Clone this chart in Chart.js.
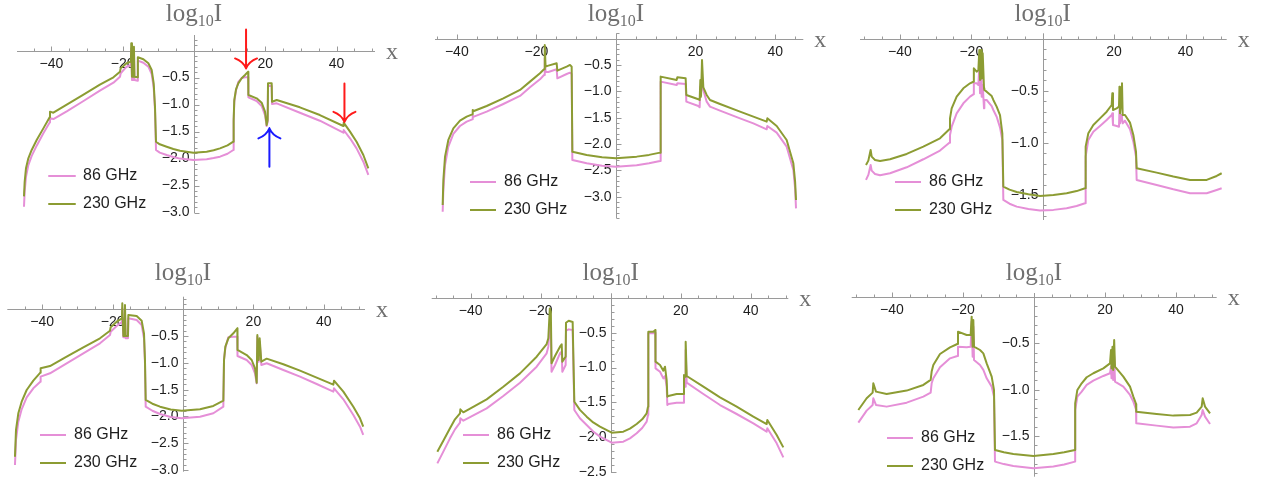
<!DOCTYPE html>
<html>
<head>
<meta charset="utf-8">
<title>log10 I profiles, 86 and 230 GHz</title>
<script src="https://cdn.jsdelivr.net/npm/chart.js@4.4.1/dist/chart.umd.min.js"></script>
<style>
  html, body { margin: 0; padding: 0; background: #ffffff; }
  #wrap { position: relative; width: 1266px; height: 482px; overflow: hidden; }
  #wrap canvas { position: absolute; }
</style>
</head>
<body>
<div id="wrap">
  <canvas id="p1"></canvas>
  <canvas id="p2"></canvas>
  <canvas id="p3"></canvas>
  <canvas id="p4"></canvas>
  <canvas id="p5"></canvas>
  <canvas id="p6"></canvas>
</div>
<script>
// ---- data (x, log10 I at 86 GHz = low, at 230 GHz = high) ----
const seriesLabels = ['86 GHz', '230 GHz'];
const xTickLabels = [-40, -20, 20, 40];
const yTicksDeep = [-0.5, -1.0, -1.5, -2.0, -2.5, -3.0];
const yTicksMid = [-0.5, -1.0, -1.5, -2.0, -2.5];
const yTicksShallow = [-0.5, -1.0, -1.5];

const p1X = [-47.69, -47.5, -47.13, -46.47, -45.53, -44.13, -42.26, -40.49, -40.4, -39.45, -35.7, -31.0, -26.4, -22.6, -20.76, -20.57, -18.9, -17.7, -17.6, -17.4, -16.95, -16.85, -16.7, -15.8, -15.75, -14.2, -12.8, -11.87, -11.31, -10.94, -10.66, -9.6, -7.67, -5.8, -3.93, -0.19, 3.55, 5.5, 7.29, 9.4, 11.03, 11.12, 11.3, 11.78, 12.43, 13.37, 14.3, 15.2, 15.25, 17.58, 18.98, 19.92, 20.38, 20.66, 20.76, 21.79, 21.88, 23.2, 29.7, 35.3, 41.89, 41.98, 43.76, 45.6, 47.5, 48.9];
const p1High = [-2.70, -2.43, -2.18, -1.995, -1.84, -1.655, -1.44, -1.235, -1.13, -1.15, -1.0, -0.816, -0.63, -0.495, -0.39, -0.328, -0.235, -0.205, 0.135, -0.483, -0.483, 0.073, -0.483, -0.495, -0.124, -0.161, -0.235, -0.359, -0.606, -1.039, -1.687, -1.735, -1.78, -1.822, -1.854, -1.89, -1.872, -1.845, -1.81, -1.755, -1.687, -1.285, -0.915, -0.717, -0.606, -0.513, -0.452, -0.39, -0.822, -0.884, -0.964, -1.13, -1.378, -1.285, -0.606, -0.606, -0.946, -0.915, -1.05, -1.193, -1.396, -1.335, -1.50, -1.687, -1.933, -2.18];
const p1Low = [-2.89, -2.61, -2.335, -2.12, -1.95, -1.76, -1.53, -1.33, -1.25, -1.267, -1.124, -0.933, -0.742, -0.594, -0.483, -0.42, -0.298, -0.267, 0.043, -0.544, -0.544, 0.011, -0.544, -0.557, -0.186, -0.224, -0.298, -0.433, -0.68, -1.10, -1.84, -1.89, -1.933, -1.97, -2.0, -2.026, -2.013, -1.99, -1.964, -1.91, -1.84, -1.317, -0.95, -0.74, -0.58, -0.51, -0.495, -0.495, -0.865, -0.933, -1.026, -1.193, -1.396, -1.317, -0.656, -0.656, -0.989, -0.976, -1.15, -1.298, -1.52, -1.47, -1.624, -1.81, -2.057, -2.30];
// annotation arrows in panel 1 (data units)
const p1ArrowX = [14.6, 42.2, 21.15];
const p1ArrowFrom = [0.39, -0.61, -2.15];
const p1ArrowTo = [-0.33, -1.32, -1.44];

const p2X = [-43.55, -43.38, -42.96, -42.13, -40.87, -39.2, -37.52, -36.1, -36.0, -35.7, -32.5, -28.31, -24.12, -21.61, -19.1, -18.09, -17.9, -17.7, -17.0, -14.91, -14.74, -12.4, -11.56, -11.14, -10.97, -9.0, -7.37, -3.5, 0, 5.19, 8.3, 11.06, 11.22, 15.24, 15.41, 17.5, 17.67, 20.69, 21.02, 21.19, 21.36, 21.61, 21.94, 22.78, 23.62, 26.13, 31.16, 34.51, 37.86, 38.02, 40.37, 42.88, 44.56, 45.0, 45.23];
const p2High = [-3.156, -2.681, -2.238, -1.922, -1.701, -1.555, -1.48, -1.435, -1.353, -1.372, -1.277, -1.132, -0.973, -0.815, -0.657, -0.581, -0.12, -0.531, -0.512, -0.467, -0.607, -0.531, -0.499, -0.531, -2.144, -2.18, -2.207, -2.25, -2.27, -2.238, -2.205, -2.162, -0.72, -0.784, -0.733, -0.752, -1.068, -1.15, -1.163, -0.784, -1.1, -0.404, -0.923, -1.068, -1.163, -1.239, -1.385, -1.48, -1.574, -1.511, -1.657, -1.922, -2.365, -2.713, -3.06];
const p2Low = [-3.282, -2.871, -2.397, -2.049, -1.808, -1.657, -1.574, -1.53, -1.46, -1.48, -1.385, -1.239, -1.087, -0.923, -0.771, -0.689, -0.372, -0.626, -0.632, -0.581, -0.752, -0.67, -0.645, -0.67, -2.302, -2.335, -2.365, -2.41, -2.428, -2.403, -2.365, -2.321, -0.815, -0.879, -0.847, -0.86, -1.195, -1.277, -1.302, -0.91, -1.037, -0.72, -0.973, -1.195, -1.29, -1.366, -1.511, -1.606, -1.72, -1.657, -1.783, -2.049, -2.491, -2.839, -3.219];

const p3X = [-49.5, -48.84, -48.2, -47.91, -46.97, -45.57, -42.77, -38.1, -33.44, -28.77, -26.15, -25.97, -25.5, -24.1, -22.23, -20.36, -19.43, -19.29, -18.5, -18.03, -17.75, -17.56, -17.28, -17.1, -16.81, -16.44, -16.35, -15.7, -14.29, -13.83, -12.9, -11.96, -11.31, -11.03, -9.3, -7.29, -4.0, -0.76, 3.0, 6.71, 9.5, 11.85, 12.03, 12.78, 14.18, 16.05, 17.92, 19.32, 19.5, 19.69, 20.72, 21.37, 21.5, 21.65, 22.03, 22.21, 22.4, 23.05, 24.45, 25.39, 26.13, 26.32, 31.92, 36.59, 41.26, 45.93, 48.73, 50.13];
const p3High = [-1.212, -1.17, -1.068, -1.132, -1.164, -1.173, -1.157, -1.106, -1.036, -0.956, -0.87, -0.765, -0.669, -0.557, -0.477, -0.429, -0.414, -0.286, -0.318, -0.302, -0.11, -0.398, -0.11, -0.382, -0.142, -0.477, -0.493, -0.509, -0.551, -0.589, -0.653, -0.733, -0.908, -1.419, -1.448, -1.47, -1.492, -1.509, -1.500, -1.483, -1.462, -1.435, -1.036, -0.908, -0.829, -0.765, -0.701, -0.637, -0.525, -0.685, -0.669, -0.653, -0.461, -0.717, -0.589, -0.429, -0.733, -0.733, -0.806, -0.924, -1.084, -1.244, -1.285, -1.323, -1.355, -1.355, -1.317, -1.291];
const p3Low = [-1.355, -1.307, -1.212, -1.266, -1.298, -1.311, -1.291, -1.234, -1.157, -1.074, -0.998, -0.924, -0.845, -0.717, -0.621, -0.557, -0.535, -0.429, -0.429, -0.445, -0.27, -0.525, -0.222, -0.557, -0.445, -0.669, -0.589, -0.589, -0.647, -0.685, -0.749, -0.851, -0.972, -1.547, -1.583, -1.611, -1.633, -1.649, -1.642, -1.627, -1.605, -1.579, -1.132, -0.972, -0.893, -0.838, -0.781, -0.733, -0.717, -0.829, -0.838, -0.845, -0.685, -0.813, -0.733, -0.765, -0.813, -0.787, -0.87, -0.988, -1.132, -1.355, -1.403, -1.445, -1.483, -1.483, -1.451, -1.435];

const p4X = [-47.73, -47.44, -46.78, -45.83, -44.41, -42.52, -40.53, -40.44, -37.78, -33.05, -28.31, -23.58, -20.74, -20.55, -18.84, -17.33, -17.24, -16.95, -16.57, -16.48, -16.29, -15.63, -15.53, -13.16, -11.74, -11.08, -10.8, -10.6, -8.7, -6.53, -3.5, -0.38, 4.83, 8.62, 11.46, 11.65, 12.03, 12.88, 14.3, 15.43, 15.48, 18.09, 19.51, 20.45, 20.93, 21.12, 21.5, 21.78, 22.25, 23.77, 28.5, 33.24, 37.97, 42.71, 42.9, 45.55, 48.39, 50.28, 51.2];
const p4High = [-2.75, -2.252, -1.94, -1.724, -1.506, -1.332, -1.183, -1.1, -1.058, -0.884, -0.709, -0.541, -0.399, -0.336, -0.231, -0.168, 0.112, -0.498, -0.498, 0.08, -0.498, -0.498, -0.106, -0.125, -0.213, -0.448, -0.946, -1.692, -1.762, -1.817, -1.868, -1.892, -1.866, -1.804, -1.705, -0.946, -0.698, -0.541, -0.448, -0.354, -0.759, -0.853, -0.946, -1.1, -1.369, -0.48, -0.946, -0.541, -0.978, -0.921, -1.026, -1.145, -1.276, -1.406, -1.332, -1.537, -1.817, -2.034, -2.19];
const p4Low = [-2.905, -2.438, -2.097, -1.866, -1.642, -1.474, -1.351, -1.257, -1.194, -1.007, -0.821, -0.634, -0.48, -0.418, -0.312, -0.231, 0.019, -0.522, -0.522, -0.045, -0.541, -0.541, -0.168, -0.2, -0.293, -0.541, -1.007, -1.817, -1.893, -1.953, -2.01, -2.034, -2.004, -1.94, -1.817, -0.946, -0.72, -0.522, -0.511, -0.511, -0.871, -0.946, -1.039, -1.194, -1.38, -0.511, -0.978, -0.604, -1.039, -1.007, -1.132, -1.257, -1.394, -1.537, -1.474, -1.679, -1.972, -2.19, -2.345];

const p5X = [-49.53, -47.82, -45.91, -44.49, -43.06, -42.95, -42.1, -35.44, -30.68, -25.91, -21.15, -18.3, -17.82, -17.39, -17.1, -16.9, -15.91, -14.49, -14.0, -13.82, -12.87, -12.77, -12.0, -10.87, -10.39, -8.8, -6.87, -5.0, -3.06, 0.28, 3.61, 5.5, 7.42, 9.0, 10.28, 10.66, 10.75, 12.18, 12.75, 12.8, 14.09, 15.04, 15.51, 15.99, 16.18, 16.47, 18.85, 20.75, 20.94, 21.23, 21.42, 21.71, 26.47, 31.23, 35.99, 40.75, 44.56, 44.75, 47.42, 49.32];
const p5High = [-2.211, -2.053, -1.875, -1.746, -1.659, -1.602, -1.645, -1.458, -1.276, -1.084, -0.844, -0.662, -0.58, -0.149, -0.197, -0.94, -0.835, -0.7, -0.667, -0.916, -0.844, -0.355, -0.326, -0.345, -1.492, -1.61, -1.707, -1.79, -1.851, -1.938, -1.923, -1.88, -1.813, -1.745, -1.659, -1.564, -0.484, -0.484, -0.46, -0.916, -0.964, -1.046, -0.988, -1.18, -1.42, -1.41, -1.381, -1.381, -1.108, -1.132, -0.628, -1.122, -1.276, -1.429, -1.564, -1.707, -1.813, -1.755, -1.971, -2.149];
const p5Low = [-2.379, -2.211, -2.019, -1.89, -1.794, -1.731, -1.765, -1.588, -1.41, -1.218, -0.988, -0.796, -0.7, -0.388, -0.412, -1.06, -0.964, -0.796, -0.772, -1.06, -0.964, -0.47, -0.451, -0.46, -1.612, -1.73, -1.827, -1.92, -1.995, -2.082, -2.067, -2.02, -1.947, -1.87, -1.779, -1.683, -0.508, -0.508, -0.499, -1.012, -1.06, -1.156, -1.122, -1.276, -1.54, -1.525, -1.506, -1.506, -1.228, -1.276, -0.748, -1.218, -1.381, -1.54, -1.669, -1.803, -1.923, -1.875, -2.091, -2.293];

const p6X = [-49.48, -47.14, -45.45, -45.26, -44.51, -41.5, -35.87, -31.17, -29.11, -28.83, -28.36, -26.48, -23.66, -21.6, -21.41, -18.97, -17.84, -17.56, -17.28, -17.09, -16.9, -15.21, -14.27, -13.33, -11.92, -11.27, -10.99, -8.5, -5.82, -0.19, 5.45, 8.5, 11.55, 11.6, 12.21, 13.43, 14.84, 16.71, 19.53, 21.41, 21.69, 21.83, 22.11, 22.3, 22.58, 22.82, 25.16, 27.04, 27.98, 28.73, 28.8, 34.55, 39.25, 43.94, 45.82, 47.23, 47.51, 48.17, 49.58];
const p6High = [-1.219, -1.093, -1.032, -0.931, -1.021, -1.046, -1.010, -0.949, -0.895, -0.805, -0.734, -0.615, -0.543, -0.507, -0.374, -0.41, -0.41, -0.212, -0.536, -0.248, -0.536, -0.572, -0.608, -0.716, -0.859, -1.003, -1.65, -1.675, -1.694, -1.715, -1.694, -1.676, -1.65, -1.147, -1.003, -0.931, -0.866, -0.823, -0.77, -0.716, -0.572, -0.77, -0.536, -0.787, -0.464, -0.752, -0.859, -0.967, -1.075, -1.154, -1.237, -1.262, -1.28, -1.273, -1.248, -1.183, -1.093, -1.183, -1.255];
const p6Low = [-1.356, -1.226, -1.165, -1.093, -1.165, -1.183, -1.14, -1.075, -1.032, -0.931, -0.877, -0.759, -0.662, -0.636, -0.536, -0.543, -0.536, -0.266, -0.644, -0.32, -0.68, -0.734, -0.787, -0.877, -0.967, -1.075, -1.776, -1.803, -1.823, -1.848, -1.83, -1.808, -1.776, -1.219, -1.075, -1.021, -0.949, -0.902, -0.852, -0.823, -0.752, -0.877, -0.68, -0.895, -0.644, -0.913, -0.967, -1.057, -1.129, -1.212, -1.363, -1.388, -1.409, -1.399, -1.363, -1.273, -1.219, -1.291, -1.37];

// ---- styling ----
const LOW_COLOR = '#e58fd7';
const HIGH_COLOR = '#8c9c33';
const AXIS_COLOR = '#9a9a9a';
const LABEL_COLOR = '#1e1e1e';
const TITLE_COLOR = '#707070';
const SANS = "'Liberation Sans', Arial, sans-serif";
const SERIF = "'Liberation Serif', 'Times New Roman', serif";

// box = canvas [left, top, width, height]; area = axis extents [left, top, right, bottom] in page px
const panels = [
  { id: 'p1', box: [0, 0, 420, 240], area: [17, 35, 375, 213], xRange: [-49.65, 50.77], yRange: [-3.007, 0.289],
    yTicks: yTicksDeep, titleY: 21, legend: [49, 176], x: p1X, low: p1Low, high: p1High,
    arrows: { x: p1ArrowX, from: p1ArrowFrom, to: p1ArrowTo, colors: ['#ff1a1a', '#ff1a1a', '#1a1aff'] } },
  { id: 'p2', box: [420, 0, 420, 240], area: [435, 33.3, 803.3, 218.3], xRange: [-45.48, 47.06], yRange: [-3.408, 0.102],
    yTicks: yTicksDeep, titleY: 21, legend: [50, 182], x: p2X, low: p2Low, high: p2High },
  { id: 'p3', box: [840, 0, 426, 240], area: [860, 33.3, 1226.7, 220], xRange: [-51.18, 51.54], yRange: [-1.739, 0.05],
    yTicks: yTicksShallow, titleY: 21, legend: [55, 182], x: p3X, low: p3Low, high: p3High },
  { id: 'p4', box: [0, 245, 420, 237], area: [7.3, 296.7, 365, 471.7], xRange: [-49.91, 51.7], yRange: [-3.03, 0.235],
    yTicks: yTicksDeep, titleY: 35, legend: [40, 190], x: p4X, low: p4Low, high: p4High },
  { id: 'p5', box: [420, 245, 420, 237], area: [431.7, 293.3, 788.3, 473], xRange: [-51.14, 50.74], yRange: [-2.518, 0.068],
    yTicks: yTicksMid, titleY: 35, legend: [43, 190], x: p5X, low: p5Low, high: p5High },
  { id: 'p6', box: [840, 245, 426, 237], area: [851.7, 293, 1216.7, 476.7], xRange: [-51.35, 51.46], yRange: [-1.939, 0.043],
    yTicks: yTicksShallow, titleY: 35, legend: [47, 193], x: p6X, low: p6Low, high: p6High }
];

function toPoints(xs, ys) {
  return xs.map((x, i) => ({ x: x, y: ys[i] }));
}

function fmt(v, digits) {
  const s = Math.abs(v).toFixed(digits);
  return v < 0 ? '\u2212' + s : s;
}

// Mathematica-style axes through the origin, title, legend and arrows
function makeDecor(p) {
  return {
    id: 'decor',
    beforeDatasetsDraw(chart) {
      const ctx = chart.ctx;
      const xs = chart.scales.x, ys = chart.scales.y;
      const area = chart.chartArea;
      const ox = Math.round(xs.getPixelForValue(0)) + 0.5;
      const oy = Math.round(ys.getPixelForValue(0)) + 0.5;
      ctx.save();
      ctx.strokeStyle = AXIS_COLOR;
      ctx.lineWidth = 1;
      ctx.beginPath();
      ctx.moveTo(area.left, oy); ctx.lineTo(area.right, oy);
      ctx.moveTo(ox, area.top); ctx.lineTo(ox, area.bottom);
      for (let v = Math.ceil(p.xRange[0] / 5) * 5; v <= p.xRange[1]; v += 5) {
        if (v === 0) continue;
        const px = Math.round(xs.getPixelForValue(v)) + 0.5;
        const len = v % 20 === 0 ? 5 : 3;
        ctx.moveTo(px, oy); ctx.lineTo(px, oy - len);
      }
      for (let k = Math.ceil(p.yRange[0] * 10); k <= Math.floor(p.yRange[1] * 10); k++) {
        if (k === 0) continue;
        const py = Math.round(ys.getPixelForValue(k / 10)) + 0.5;
        const len = k % 5 === 0 ? 5 : 3;
        ctx.moveTo(ox, py); ctx.lineTo(ox + len, py);
      }
      ctx.stroke();

      ctx.fillStyle = LABEL_COLOR;
      ctx.font = '14px ' + SANS;
      ctx.textAlign = 'center';
      ctx.textBaseline = 'middle';
      xTickLabels.forEach(v => ctx.fillText(fmt(v, 0), xs.getPixelForValue(v), oy + 13));
      ctx.textAlign = 'right';
      p.yTicks.forEach(v => ctx.fillText(fmt(v, 1), ox - 5, ys.getPixelForValue(v)));
      ctx.restore();
    },
    afterDatasetsDraw(chart) {
      const ctx = chart.ctx;
      const xs = chart.scales.x, ys = chart.scales.y;
      const area = chart.chartArea;
      const ox = xs.getPixelForValue(0), oy = ys.getPixelForValue(0);
      ctx.save();

      // arrows
      if (p.arrows) {
        p.arrows.x.forEach((ax, i) => {
          const px = xs.getPixelForValue(ax);
          const y1 = ys.getPixelForValue(p.arrows.from[i]);
          const y2 = ys.getPixelForValue(p.arrows.to[i]);
          const dir = y2 > y1 ? 1 : -1;
          ctx.strokeStyle = p.arrows.colors[i];
          ctx.lineWidth = 2;
          ctx.lineCap = 'round';
          ctx.beginPath();
          ctx.moveTo(px, y1); ctx.lineTo(px, y2);
          [-1, 1].forEach(side => {
            ctx.moveTo(px + side * 11, y2 - dir * 10);
            ctx.quadraticCurveTo(px + side * 3, y2 - dir * 7, px, y2);
          });
          ctx.stroke();
        });
      }

      // legend
      const lx = p.legend[0], ly = p.legend[1];
      const rows = [[seriesLabels[0], LOW_COLOR], [seriesLabels[1], HIGH_COLOR]];
      ctx.font = '16px ' + SANS;
      ctx.textAlign = 'left';
      ctx.textBaseline = 'middle';
      rows.forEach((r, i) => {
        const y = ly + i * 28;
        ctx.strokeStyle = r[1];
        ctx.lineWidth = 2;
        ctx.beginPath();
        ctx.moveTo(lx, y); ctx.lineTo(lx + 26, y);
        ctx.stroke();
        ctx.fillStyle = LABEL_COLOR;
        ctx.fillText(r[0], lx + 34, y);
      });

      // axis titles
      ctx.fillStyle = TITLE_COLOR;
      ctx.textBaseline = 'alphabetic';
      ctx.font = '25px ' + SERIF;
      const w1 = ctx.measureText('log').width;
      const w3 = ctx.measureText('I').width;
      ctx.font = '16px ' + SERIF;
      const w2 = ctx.measureText('10').width;
      let tx = ox - (w1 + w2 + w3) / 2;
      ctx.font = '25px ' + SERIF;
      ctx.fillText('log', tx, p.titleY);
      ctx.font = '16px ' + SERIF;
      ctx.fillText('10', tx + w1, p.titleY + 5);
      ctx.font = '25px ' + SERIF;
      ctx.fillText('I', tx + w1 + w2, p.titleY);
      ctx.font = '24px ' + SERIF;
      ctx.fillText('x', area.right + 11, oy + 8);
      ctx.restore();
    }
  };
}

panels.forEach(p => {
  const cv = document.getElementById(p.id);
  const [bx, by, bw, bh] = p.box;
  const [al, at, ar, ab] = p.area;
  cv.width = bw;
  cv.height = bh;
  cv.style.left = bx + 'px';
  cv.style.top = by + 'px';
  const line = { showLine: true, pointRadius: 0, borderWidth: 2, fill: false, tension: 0, clip: false, borderJoinStyle: 'round' };
  new Chart(cv, {
    type: 'scatter',
    data: {
      datasets: [
        Object.assign({ label: seriesLabels[1], data: toPoints(p.x, p.high), borderColor: HIGH_COLOR }, line),
        Object.assign({ label: seriesLabels[0], data: toPoints(p.x, p.low), borderColor: LOW_COLOR }, line)
      ]
    },
    options: {
      responsive: false,
      animation: false,
      devicePixelRatio: 1,
      events: [],
      layout: { padding: { left: al - bx, top: at - by, right: bx + bw - ar, bottom: by + bh - ab } },
      scales: {
        x: { type: 'linear', min: p.xRange[0], max: p.xRange[1], display: false },
        y: { type: 'linear', min: p.yRange[0], max: p.yRange[1], display: false }
      },
      plugins: { legend: { display: false }, tooltip: { enabled: false } }
    },
    plugins: [makeDecor(p)]
  });
});
</script>
</body>
</html>
